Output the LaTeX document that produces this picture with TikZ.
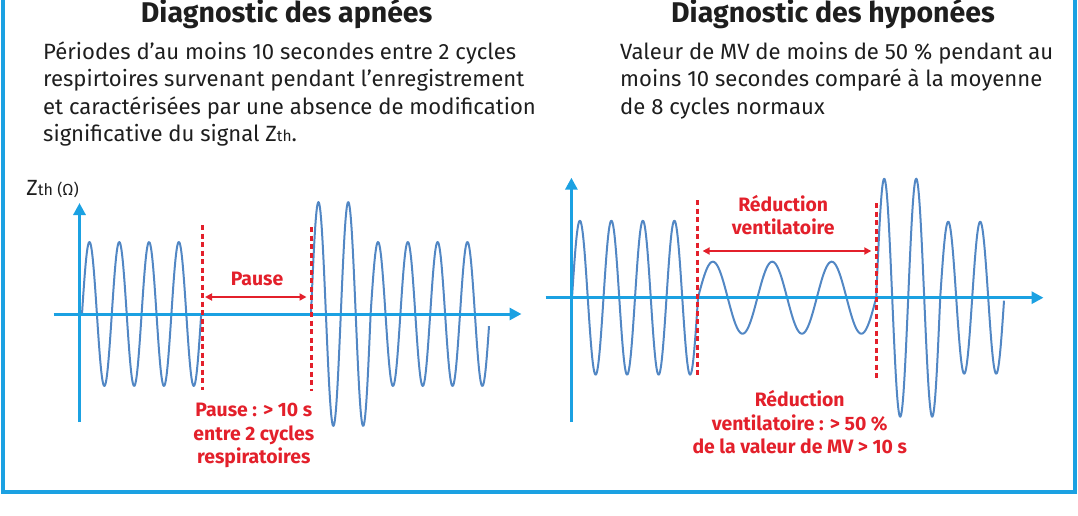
\documentclass[tikz,border=0pt]{standalone}
\usepackage{fontspec}
\setmainfont{Fira Sans}
\usetikzlibrary{arrows.meta}
\definecolor{axisblue}{HTML}{1BA1E2}
\definecolor{waveblue}{HTML}{5287C4}
\definecolor{redc}{HTML}{E3202B}
\definecolor{txt}{HTML}{1E1E1E}
\begin{document}
\begin{tikzpicture}[x=1pt,y=-1pt,
 axis/.style={draw=axisblue, line width=3pt, -{Triangle[length=12pt,width=12pt]}},
 wave/.style={draw=waveblue, line width=2pt, line join=round},
 limit/.style={draw=redc, line width=3pt, dash pattern=on 5pt off 3.5pt},
 span/.style={draw=redc, line width=2pt, {Triangle[length=7pt,width=7pt]}-{Triangle[length=7pt,width=7pt]}},
 title/.style={font=\fontsize{28.5}{32}\selectfont\bfseries, text=txt, inner sep=0pt, anchor=base},
 body/.style={font=\fontsize{22.1}{27}\selectfont, text=txt, inner sep=0pt, anchor=base west},
 note/.style={font=\fontsize{19.4}{22}\selectfont\bfseries, text=redc, inner sep=0pt, anchor=base},
 frame/.style={draw=axisblue, line width=4pt}]
\useasboundingbox (0,0) rectangle (1078,516);
% frame
\coordinate (ftl) at (3,-5);
\coordinate (fbl) at (3,492);
\coordinate (fbr) at (1075,492);
\coordinate (ftr) at (1075,-5);
\draw[frame] (ftl) -- (fbl) -- (fbr) -- (ftr);
% titles
\node[title] (t1) at (286.7,22.7) {Diagnostic des apnées};
\node[title] (t2) at (833,22.7) {Diagnostic des hyponées};
% body left
\node[body] (a1) at (43,59.5) {Périodes d’au moins 10 secondes entre 2 cycles};
\node[body] (a2) at (43,87) {respirtoires survenant pendant l’enregistrement};
\node[body] (a3) at (43,114) {et caractérisées par une absence de modification};
\node[body] (a4) at (43,141) {significative du signal Z{\fontsize{15.5}{15.5}\selectfont th}.};
% body right
\node[body] (b1) at (620,59.5) {Valeur de MV de moins de 50 \% pendant au};
\node[body] (b2) at (620,87) {moins 10 secondes comparé à la moyenne};
\node[body] (b3) at (620,114) {de 8 cycles normaux};
% ---------- left chart
\node[body, font=\fontsize{22}{22}\selectfont] (ylab) at (26.2,195.7) {Z{\fontsize{16}{16}\selectfont th (Ω)}};
\draw[wave] plot[domain=82:201.2, samples=200] (\x,{314-72*sin((\x-82)/29.8*360)});
\draw[wave] plot[domain=311:489, samples=300] (\x,{314-(\x<370.6?112:72)*sin((\x-311)/29.8*360)});
\coordinate (Ly0) at (79.5,422);
\coordinate (Ly1) at (79.5,203);
\coordinate (Lx0) at (53.5,314);
\coordinate (Lx1) at (521.5,314);
\draw[axis] (Ly0) -- (Ly1);
\draw[axis] (Lx0) -- (Lx1);
\coordinate (Ld1a) at (202,225);
\coordinate (Ld1b) at (202,390);
\coordinate (Ld2a) at (311,227);
\coordinate (Ld2b) at (311,391);
\draw[limit] (Ld1a) -- (Ld1b);
\draw[limit] (Ld2a) -- (Ld2b);
\coordinate (Lsa) at (205,297);
\coordinate (Lsb) at (306.5,297);
\draw[span] (Lsa) -- (Lsb);
\node[note] (pause) at (257,285) {Pause};
\node[note] (ln1) at (253.8,416) {Pause : > 10 s};
\node[note] (ln2) at (253.8,440) {entre 2 cycles};
\node[note] (ln3) at (253.8,463) {respiratoires};
% ---------- right chart
\draw[wave] plot[domain=572:698, samples=200] (\x,{297.7-77*sin((\x-572)/31.5*360)});
\draw[wave] plot[domain=698:876.2, samples=200] (\x,{297.7-36*sin((\x-698)/59.4*360)});
\draw[wave] plot[domain=876.2:1004, samples=250] (\x,{297.7-(\x<940.2?119:76)*sin((\x-876.2)/32*360)});
\coordinate (Ry0) at (571.4,422);
\coordinate (Ry1) at (571.4,177.7);
\coordinate (Rx0) at (545.6,297.7);
\coordinate (Rx1) at (1043.5,297.7);
\draw[axis] (Ry0) -- (Ry1);
\draw[axis] (Rx0) -- (Rx1);
\coordinate (Rd1a) at (697.4,200);
\coordinate (Rd1b) at (697.4,378.3);
\coordinate (Rd2a) at (876.2,203);
\coordinate (Rd2b) at (876.2,378);
\draw[limit] (Rd1a) -- (Rd1b);
\draw[limit] (Rd2a) -- (Rd2b);
\coordinate (Rsa) at (702.6,251);
\coordinate (Rsb) at (871.3,251);
\draw[span] (Rsa) -- (Rsb);
\node[note] (rt1) at (783.2,211.7) {Réduction};
\node[note] (rt2) at (783.2,234.3) {ventilatoire};
\node[note] (rn1) at (799.7,406.7) {Réduction};
\node[note] (rn2) at (799.7,430) {ventilatoire : > 50 \%};
\node[note] (rn3) at (799.7,453.3) {de la valeur de MV > 10 s};
\end{tikzpicture}
\end{document}
